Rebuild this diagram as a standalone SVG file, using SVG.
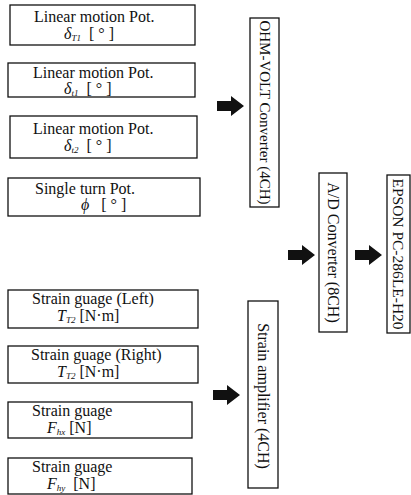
<svg xmlns="http://www.w3.org/2000/svg" width="411" height="495" viewBox="0 0 411 495">
<style>
.box{fill:#fff;stroke:#111;stroke-width:1.3}
.t{font-family:"Liberation Serif","Times New Roman",serif;font-size:16px;fill:#111}
.v{font-family:"Liberation Serif","Times New Roman",serif;font-size:16px;fill:#111}
.s{font-size:9px;font-style:italic}
.i{font-style:italic}
.arr{fill:#111}
</style>
<defs>
<path id="arrow" class="arr" d="M0,-5 H14 V-10 L27,0 L14,10 V5 H0 Z"/>
</defs>
<rect width="411" height="495" fill="#fff"/>
<g id="n1"><rect class="box" x="10" y="5" width="185" height="40"/>
<text class="t" x="34" y="22">Linear motion Pot.</text>
<text class="t" x="64" y="39"><tspan class="i">δ</tspan><tspan class="s" dy="2">T1</tspan><tspan dy="-2" xml:space="preserve">  [ ° ]</tspan></text></g>
<g id="n2"><rect class="box" x="8" y="63" width="187" height="34"/>
<text class="t" x="33" y="78">Linear motion Pot.</text>
<text class="t" x="64" y="94"><tspan class="i">δ</tspan><tspan class="s" dy="2">t1</tspan><tspan dy="-2" xml:space="preserve">  [ ° ]</tspan></text></g>
<g id="n3"><rect class="box" x="10" y="116" width="187" height="42"/>
<text class="t" x="33" y="134">Linear motion Pot.</text>
<text class="t" x="64" y="151"><tspan class="i">δ</tspan><tspan class="s" dy="2">t2</tspan><tspan dy="-2" xml:space="preserve">  [ ° ]</tspan></text></g>
<g id="n4"><rect class="box" x="8" y="178" width="192" height="38"/>
<text class="t" x="35" y="194">Single turn Pot.</text>
<text class="t" x="81" y="210" xml:space="preserve"><tspan class="i">ϕ</tspan>   [ ° ]</text></g>
<g id="n5"><rect class="box" x="8" y="290" width="190" height="38"/>
<text class="t" x="32" y="304">Strain guage (Left)</text>
<text class="t" x="57" y="321"><tspan class="i">T</tspan><tspan class="s" dy="2">T2</tspan><tspan dy="-2" xml:space="preserve"> [N·m]</tspan></text></g>
<g id="n6"><rect class="box" x="8" y="346" width="190" height="37"/>
<text class="t" x="31" y="360">Strain guage (Right)</text>
<text class="t" x="57" y="377"><tspan class="i">T</tspan><tspan class="s" dy="2">T2</tspan><tspan dy="-2" xml:space="preserve"> [N·m]</tspan></text></g>
<g id="n7"><rect class="box" x="8" y="402" width="184" height="36"/>
<text class="t" x="32" y="416">Strain guage</text>
<text class="t" x="47" y="433"><tspan class="i">F</tspan><tspan class="s" dy="2">hx</tspan><tspan dy="-2" xml:space="preserve"> [N]</tspan></text></g>
<g id="n8"><rect class="box" x="8" y="458" width="184" height="36"/>
<text class="t" x="32" y="472">Strain guage</text>
<text class="t" x="47" y="489"><tspan class="i">F</tspan><tspan class="s" dy="2">hy</tspan><tspan dy="-2" xml:space="preserve">  [N]</tspan></text></g>
<g id="ohm"><rect class="box" x="250" y="18" width="29" height="189"/>
<text class="v" style="font-size:15px" text-anchor="middle" transform="translate(259.5,112.5) rotate(90)">OHM-VOLT Converter (4CH)</text></g>
<g id="ad"><rect class="box" x="319" y="173" width="28" height="159"/>
<text class="v" text-anchor="middle" transform="translate(327.5,252.5) rotate(90)">A/D Converter (8CH)</text></g>
<g id="epson"><rect class="box" x="387" y="175" width="23" height="158"/>
<text class="v" style="font-size:15.5px" text-anchor="middle" transform="translate(392.5,254) rotate(90)">EPSON PC-286LE-H20</text></g>
<g id="amp"><rect class="box" x="248" y="301" width="30" height="187"/>
<text class="v" text-anchor="middle" transform="translate(257.5,396) rotate(90)">Strain amplifier (4CH)</text></g>
<g id="connectors">
<use href="#arrow" x="217" y="106"/>
<use href="#arrow" x="288" y="255"/>
<use href="#arrow" x="355" y="255"/>
<use href="#arrow" x="213" y="395"/>
</g>
</svg>
